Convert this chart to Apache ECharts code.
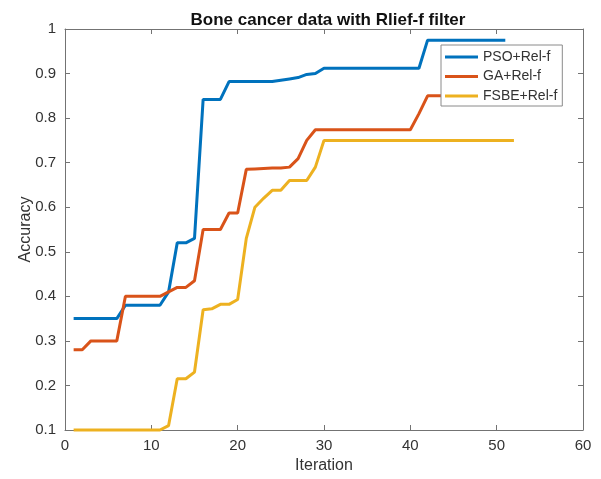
<!DOCTYPE html>
<html>
<head>
<meta charset="utf-8">
<script src="https://cdn.jsdelivr.net/npm/echarts@6/dist/echarts.min.js"></script>
<style>
  html, body { margin: 0; padding: 0; background: #fff; }
  #main { width: 601px; height: 479px; }
</style>
</head>
<body>
<div id="main"></div>
<script>
var seriesNames = ['PSO+Rel-f', 'GA+Rel-f', 'FSBE+Rel-f'];
var seriesColors = ['#0072BD', '#D95319', '#EDB120'];

// accuracy per iteration (iteration 1, 2, 3, ...)
var psoValues = [
  0.35, 0.35, 0.35, 0.35, 0.35, 0.35,
  0.38, 0.38, 0.38, 0.38, 0.38,
  0.41, 0.52, 0.52, 0.53,
  0.842, 0.842, 0.842,
  0.882, 0.882, 0.882, 0.882, 0.882, 0.882,
  0.885, 0.888, 0.891, 0.898, 0.900,
  0.912, 0.912, 0.912, 0.912, 0.912, 0.912, 0.912, 0.912, 0.912, 0.912, 0.912, 0.912,
  0.975, 0.975, 0.975, 0.975, 0.975, 0.975, 0.975, 0.975, 0.975, 0.975
];
var gaValues = [
  0.28, 0.28,
  0.30, 0.30, 0.30, 0.30,
  0.40, 0.40, 0.40, 0.40, 0.40,
  0.41, 0.42, 0.42, 0.435,
  0.55, 0.55, 0.55,
  0.587, 0.587,
  0.685, 0.686, 0.687, 0.688, 0.688, 0.69, 0.709, 0.75,
  0.774, 0.774, 0.774, 0.774, 0.774, 0.774, 0.774, 0.774, 0.774, 0.774, 0.774, 0.774,
  0.81,
  0.85, 0.85, 0.85, 0.85, 0.85, 0.85, 0.85, 0.85, 0.85, 0.85, 0.85
];
var fsbeValues = [
  0.1, 0.1, 0.1, 0.1, 0.1, 0.1, 0.1, 0.1, 0.1, 0.1, 0.1,
  0.11, 0.215, 0.215, 0.23, 0.37, 0.372, 0.382, 0.382, 0.393,
  0.53, 0.60, 0.62, 0.638, 0.638, 0.66, 0.66, 0.66, 0.69,
  0.75, 0.75, 0.75, 0.75, 0.75, 0.75, 0.75, 0.75, 0.75, 0.75, 0.75, 0.75,
  0.75, 0.75, 0.75, 0.75, 0.75, 0.75, 0.75, 0.75, 0.75, 0.75, 0.75
];

var xTicks = { min: 0, max: 60, interval: 10 };
var yTicks = { min: 0.1, max: 1, interval: 0.1 };

var fontFamily = '"Liberation Sans", Arial, sans-serif';
var axisGray = '#737373';
var textGray = '#333333';

function toPoints(values) {
  var res = [];
  for (var i = 0; i < values.length; i++) {
    res.push([i + 1, values[i]]);
  }
  return res;
}

var chart = echarts.init(document.getElementById('main'));

function boxAxis(pos, ticks, showLabels) {
  return {
    type: 'value',
    position: pos,
    min: ticks.min,
    max: ticks.max,
    interval: ticks.interval,
    axisLine: { show: true, onZero: false, lineStyle: { color: axisGray, width: 1 } },
    axisTick: { show: true, inside: true, length: 5, lineStyle: { color: axisGray } },
    axisLabel: { show: showLabels },
    splitLine: { show: false }
  };
}

var xBottom = boxAxis('bottom', xTicks, true);
xBottom.name = 'Iteration';
xBottom.nameLocation = 'middle';
xBottom.nameGap = 28;
xBottom.nameMoveOverlap = false;
xBottom.nameTextStyle = { fontSize: 16, color: textGray, fontFamily: fontFamily };
xBottom.axisLabel = { show: true, margin: 8, fontSize: 15, color: textGray, fontFamily: fontFamily };

var yLeft = boxAxis('left', yTicks, true);
yLeft.name = 'Accuracy';
yLeft.nameLocation = 'middle';
yLeft.nameGap = 31;
yLeft.nameMoveOverlap = false;
yLeft.nameTextStyle = { fontSize: 16, color: textGray, fontFamily: fontFamily };
yLeft.axisLabel = {
  show: true, margin: 9, fontSize: 15, color: textGray, fontFamily: fontFamily,
  formatter: function (v) { return String(Math.round(v * 10) / 10); }
};

var option = {
  backgroundColor: '#ffffff',
  animation: false,
  title: {
    text: 'Bone cancer data with Rlief-f filter',
    left: 323,
    textAlign: 'center',
    top: 7,
    textStyle: { fontSize: 17, fontWeight: 'bold', color: '#111', fontFamily: fontFamily }
  },
  grid: { left: 65, right: 18, top: 29, bottom: 49, containLabel: false },
  legend: {
    orient: 'vertical',
    left: 441,
    top: 45,
    align: 'left',
    padding: [5, 5, 3, 4],
    itemGap: 5.5,
    itemWidth: 33,
    itemHeight: 3,
    icon: 'rect',
    backgroundColor: '#ffffff',
    borderColor: '#8a8a8a',
    borderWidth: 1,
    textStyle: { fontSize: 14, color: textGray, fontFamily: fontFamily },
    data: seriesNames
  },
  xAxis: [xBottom, boxAxis('top', xTicks, false)],
  yAxis: [yLeft, boxAxis('right', yTicks, false)],
  series: [
    { name: seriesNames[0], data: toPoints(psoValues) },
    { name: seriesNames[1], data: toPoints(gaValues) },
    { name: seriesNames[2], data: toPoints(fsbeValues) }
  ].map(function (s, i) {
    s.type = 'line';
    s.xAxisIndex = 0;
    s.yAxisIndex = 0;
    s.showSymbol = false;
    s.symbol = 'none';
    s.clip = false;
    s.color = seriesColors[i];
    s.lineStyle = { width: 3, color: seriesColors[i] };
    return s;
  })
};

chart.setOption(option);
</script>
</body>
</html>
